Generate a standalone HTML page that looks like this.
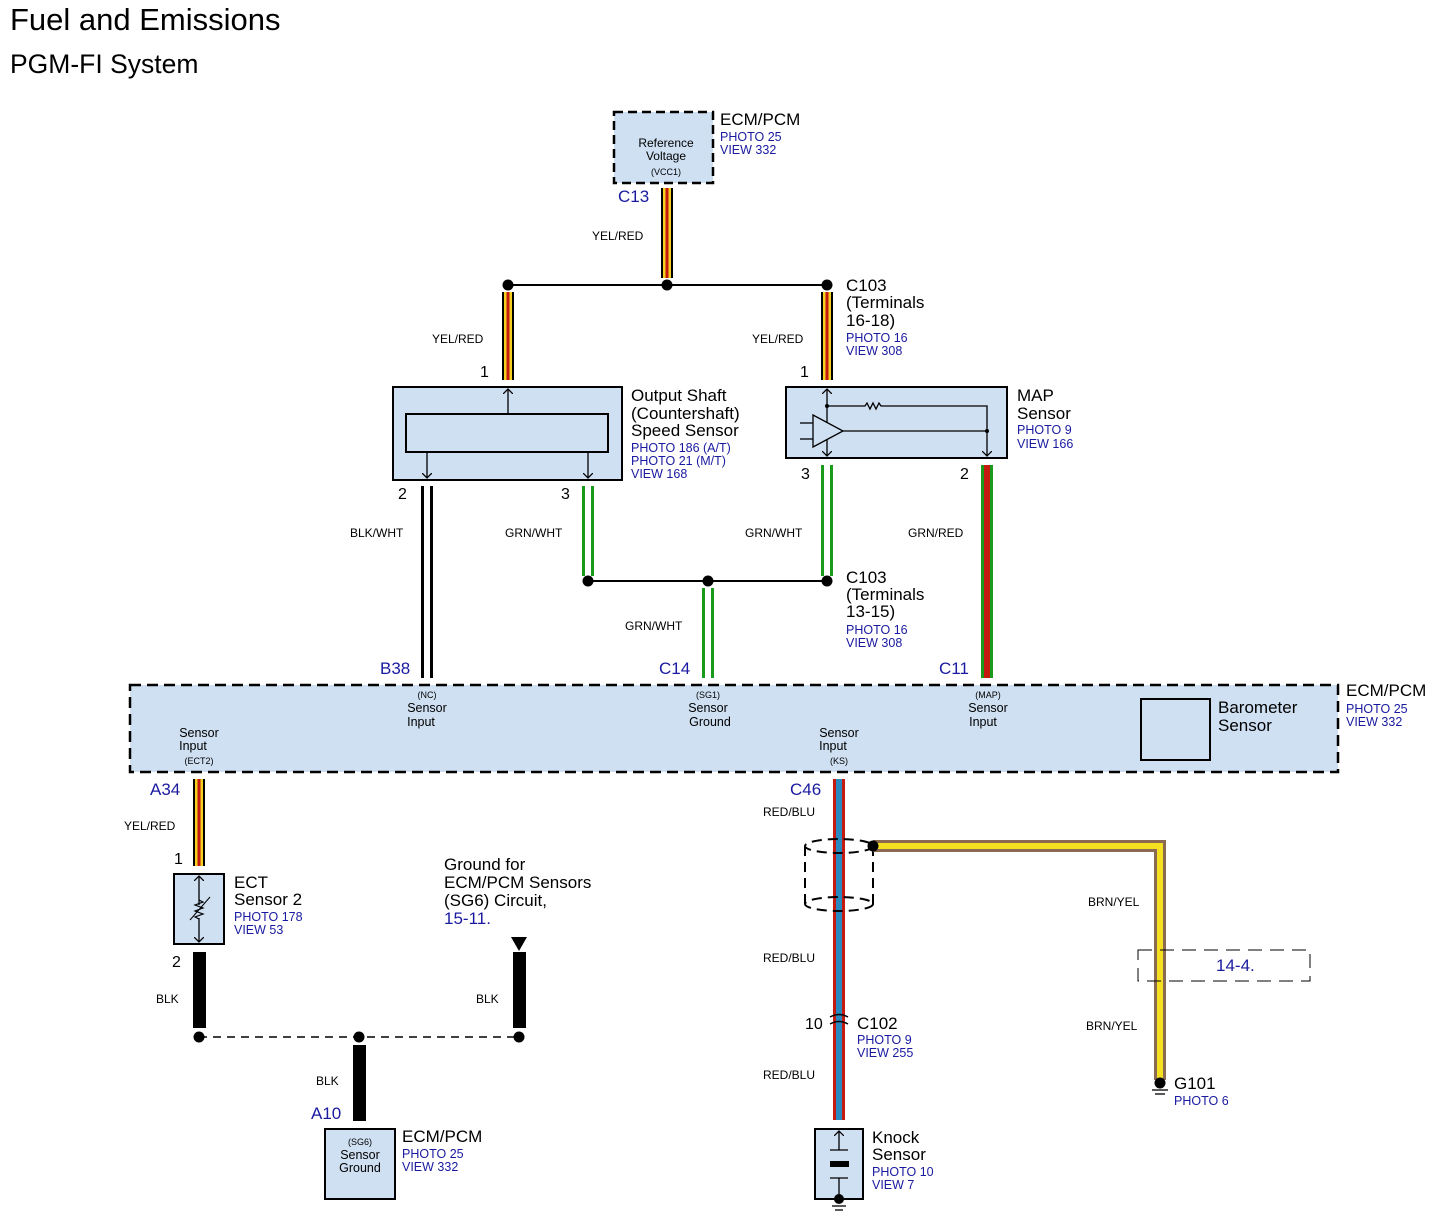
<!DOCTYPE html>
<html><head><meta charset="utf-8"><style>
html,body{margin:0;padding:0;background:#fff;}
svg{display:block;font-family:"Liberation Sans",Arial,sans-serif;}
.b{fill:#1a1aa0;}
text[font-size="16"]{font-size:17px;}
text.b[font-size="12"]{font-size:12.5px;}
text.n{font-size:16px !important;}
</style></head><body>
<svg width="1438" height="1222" viewBox="0 0 1438 1222" xmlns="http://www.w3.org/2000/svg">
<defs>
<marker id="ar" markerWidth="10" markerHeight="10" refX="5" refY="5" orient="auto" markerUnits="userSpaceOnUse"><path d="M0,0 L5,5 L0,10" fill="none" stroke="#000" stroke-width="1.3"/></marker>
</defs>
<text x="10" y="30" font-size="31">Fuel and Emissions</text>
<text x="10" y="73" font-size="26.5">PGM-FI System</text>

<rect x="614" y="112" width="99" height="71" fill="#cfe0f2" stroke="#000" stroke-width="2.5" stroke-dasharray="9,5"/>
<text x="666" y="147" font-size="12" text-anchor="middle">Reference</text>
<text x="666" y="160" font-size="12" text-anchor="middle">Voltage</text>
<text x="666" y="175" font-size="9" text-anchor="middle">(VCC1)</text>
<text x="720" y="125" font-size="16">ECM/PCM</text>
<text x="720" y="141" font-size="12" class="b">PHOTO 25</text>
<text x="720" y="154" font-size="12" class="b">VIEW 332</text>
<text x="618" y="202" font-size="16" class="b">C13</text>

<g>
<rect x="661" y="188" width="12" height="90" fill="#000"/><rect x="663" y="188" width="8" height="90" fill="#f5d020"/><rect x="665.5" y="188" width="3" height="90" fill="#c41a10"/>
<rect x="502" y="292" width="12" height="88" fill="#000"/><rect x="504" y="292" width="8" height="88" fill="#f5d020"/><rect x="506.5" y="292" width="3" height="88" fill="#c41a10"/>
<rect x="821" y="292" width="12" height="88" fill="#000"/><rect x="823" y="292" width="8" height="88" fill="#f5d020"/><rect x="825.5" y="292" width="3" height="88" fill="#c41a10"/>
<rect x="193" y="779" width="12" height="87" fill="#000"/><rect x="195" y="779" width="8" height="87" fill="#f5d020"/><rect x="197.5" y="779" width="3" height="87" fill="#c41a10"/>
</g>
<text x="592" y="240" font-size="12">YEL/RED</text>
<line x1="508" y1="285" x2="827" y2="285" stroke="#000" stroke-width="2"/>
<circle cx="508" cy="285" r="5.5"/><circle cx="667" cy="285" r="5.5"/><circle cx="827" cy="285" r="5.5"/>
<text x="432" y="343" font-size="12">YEL/RED</text>
<text x="752" y="343" font-size="12">YEL/RED</text>
<text x="480" y="377" font-size="16" class="n">1</text>
<text x="800" y="377" font-size="16" class="n">1</text>
<text x="846" y="291" font-size="16">C103</text>
<text x="846" y="308" font-size="16">(Terminals</text>
<text x="846" y="326" font-size="16">16-18)</text>
<text x="846" y="342" font-size="12" class="b">PHOTO 16</text>
<text x="846" y="355" font-size="12" class="b">VIEW 308</text>

<rect x="393" y="387" width="229" height="93" fill="#cfe0f2" stroke="#000" stroke-width="2"/>
<rect x="406" y="414" width="202" height="38" fill="#cfe0f2" stroke="#000" stroke-width="2"/>
<line x1="508" y1="414" x2="508" y2="389" stroke="#000" stroke-width="1.3" marker-end="url(#ar)"/>
<line x1="427" y1="452" x2="427" y2="478" stroke="#000" stroke-width="1.3" marker-end="url(#ar)"/>
<line x1="588" y1="452" x2="588" y2="478" stroke="#000" stroke-width="1.3" marker-end="url(#ar)"/>
<text x="631" y="401" font-size="16">Output Shaft</text>
<text x="631" y="419" font-size="16">(Countershaft)</text>
<text x="631" y="436" font-size="16">Speed Sensor</text>
<text x="631" y="452" font-size="12" class="b">PHOTO 186 (A/T)</text>
<text x="631" y="465" font-size="12" class="b">PHOTO 21 (M/T)</text>
<text x="631" y="478" font-size="12" class="b">VIEW 168</text>

<rect x="786" y="387" width="221" height="71" fill="#cfe0f2" stroke="#000" stroke-width="2"/>
<line x1="827" y1="405" x2="827" y2="389" stroke="#000" stroke-width="1.3" marker-end="url(#ar)"/>
<line x1="827" y1="405" x2="827" y2="456" stroke="#000" stroke-width="1.3" marker-end="url(#ar)"/>
<path d="M827,406 H865 l2,-3 3,6 3,-6 3,6 3,-6 2,3 H987 V456" fill="none" stroke="#000" stroke-width="1.3" marker-end="url(#ar)"/>
<polygon points="813,415 813,447 843,431" fill="#cfe0f2" stroke="#000" stroke-width="1.3"/>
<line x1="800" y1="423" x2="813" y2="423" stroke="#000" stroke-width="1.3"/>
<line x1="800" y1="439" x2="813" y2="439" stroke="#000" stroke-width="1.3"/>
<line x1="843" y1="431" x2="987" y2="431" stroke="#000" stroke-width="1.3"/>
<circle cx="827" cy="406" r="2"/><circle cx="987" cy="431" r="2"/>
<text x="1017" y="401" font-size="16">MAP</text>
<text x="1017" y="419" font-size="16">Sensor</text>
<text x="1017" y="434" font-size="12" class="b">PHOTO 9</text>
<text x="1017" y="448" font-size="12" class="b">VIEW 166</text>

<text x="398" y="499" font-size="16" class="n">2</text>
<text x="561" y="499" font-size="16" class="n">3</text>
<text x="801" y="479" font-size="16" class="n">3</text>
<text x="960" y="479" font-size="16" class="n">2</text>

<rect x="421" y="486" width="12" height="192" fill="#000"/><rect x="424" y="486" width="6" height="192" fill="#fff"/>
<rect x="582" y="486" width="12" height="90" fill="#1a9a1a"/><rect x="585" y="486" width="6" height="90" fill="#fff"/>
<rect x="821" y="465" width="12" height="111" fill="#1a9a1a"/><rect x="824" y="465" width="6" height="111" fill="#fff"/>
<rect x="702" y="588" width="12" height="90" fill="#1a9a1a"/><rect x="705" y="588" width="6" height="90" fill="#fff"/>
<rect x="981" y="465" width="12" height="213" fill="#1a9a1a"/><rect x="984" y="465" width="6" height="213" fill="#c41a10"/>
<text x="350" y="537" font-size="12">BLK/WHT</text>
<text x="505" y="537" font-size="12">GRN/WHT</text>
<text x="745" y="537" font-size="12">GRN/WHT</text>
<text x="908" y="537" font-size="12">GRN/RED</text>
<line x1="588" y1="581" x2="827" y2="581" stroke="#000" stroke-width="2"/>
<circle cx="588" cy="581" r="5.5"/><circle cx="708" cy="581" r="5.5"/><circle cx="827" cy="581" r="5.5"/>
<text x="625" y="630" font-size="12">GRN/WHT</text>
<text x="846" y="583" font-size="16">C103</text>
<text x="846" y="600" font-size="16">(Terminals</text>
<text x="846" y="617" font-size="16">13-15)</text>
<text x="846" y="634" font-size="12" class="b">PHOTO 16</text>
<text x="846" y="647" font-size="12" class="b">VIEW 308</text>
<text x="380" y="674" font-size="16" class="b">B38</text>
<text x="659" y="674" font-size="16" class="b">C14</text>
<text x="939" y="674" font-size="16" class="b">C11</text>

<rect x="130" y="685" width="1208" height="87" fill="#cfe0f2" stroke="#000" stroke-width="2.5" stroke-dasharray="11,6"/>
<g font-size="12.5" text-anchor="middle">
<text x="427" y="698" font-size="9">(NC)</text><text x="427" y="712">Sensor</text><text x="421" y="726">Input</text>
<text x="708" y="698" font-size="9">(SG1)</text><text x="708" y="712">Sensor</text><text x="710" y="726">Ground</text>
<text x="988" y="698" font-size="9">(MAP)</text><text x="988" y="712">Sensor</text><text x="983" y="726">Input</text>
<text x="199" y="737">Sensor</text><text x="193" y="750">Input</text><text x="199" y="764" font-size="9">(ECT2)</text>
<text x="839" y="737">Sensor</text><text x="833" y="750">Input</text><text x="839" y="764" font-size="9">(KS)</text>
</g>
<rect x="1141" y="699" width="69" height="61" fill="#cfe0f2" stroke="#000" stroke-width="2"/>
<text x="1218" y="713" font-size="16">Barometer</text>
<text x="1218" y="731" font-size="16">Sensor</text>
<text x="1346" y="696" font-size="16">ECM/PCM</text>
<text x="1346" y="713" font-size="12" class="b">PHOTO 25</text>
<text x="1346" y="726" font-size="12" class="b">VIEW 332</text>

<text x="150" y="795" font-size="16" class="b">A34</text>
<text x="124" y="830" font-size="12">YEL/RED</text>
<text x="174" y="864" font-size="16" class="n">1</text>
<rect x="174" y="874" width="50" height="70" fill="#cfe0f2" stroke="#000" stroke-width="2"/>
<line x1="199" y1="905" x2="199" y2="876" stroke="#000" stroke-width="1.3" marker-end="url(#ar)"/>
<line x1="199" y1="918" x2="199" y2="942" stroke="#000" stroke-width="1.3" marker-end="url(#ar)"/>
<path d="M199,900 l4,2 -8,3 8,3 -8,3 8,3 -8,3 4,2" fill="none" stroke="#000" stroke-width="1.2"/>
<line x1="190" y1="920" x2="210" y2="897" stroke="#000" stroke-width="1"/>
<text x="234" y="888" font-size="16">ECT</text>
<text x="234" y="905" font-size="16">Sensor 2</text>
<text x="234" y="921" font-size="12" class="b">PHOTO 178</text>
<text x="234" y="934" font-size="12" class="b">VIEW 53</text>
<text x="172" y="967" font-size="16" class="n">2</text>
<rect x="193" y="952" width="13" height="76" fill="#000"/>
<text x="156" y="1003" font-size="12">BLK</text>
<text x="444" y="870" font-size="16">Ground for</text>
<text x="444" y="888" font-size="16">ECM/PCM Sensors</text>
<text x="444" y="906" font-size="16">(SG6) Circuit,</text>
<text x="444" y="924" font-size="16" class="b">15-11.</text>
<polygon points="511,937 527,937 519,951"/>
<rect x="513" y="952" width="13" height="76" fill="#000"/>
<text x="476" y="1003" font-size="12">BLK</text>
<line x1="199" y1="1037" x2="519" y2="1037" stroke="#000" stroke-width="1.5" stroke-dasharray="8,6"/>
<circle cx="199" cy="1037" r="5.5"/><circle cx="359" cy="1037" r="5.5"/><circle cx="519" cy="1037" r="5.5"/>
<rect x="353" y="1045" width="13" height="76" fill="#000"/>
<text x="316" y="1085" font-size="12">BLK</text>
<text x="311" y="1119" font-size="16" class="b">A10</text>
<rect x="325" y="1129" width="70" height="70" fill="#cfe0f2" stroke="#000" stroke-width="2"/>
<text x="360" y="1145" font-size="9" text-anchor="middle">(SG6)</text>
<text x="360" y="1159" font-size="12.5" text-anchor="middle">Sensor</text>
<text x="360" y="1172" font-size="12.5" text-anchor="middle">Ground</text>
<text x="402" y="1142" font-size="16">ECM/PCM</text>
<text x="402" y="1158" font-size="12" class="b">PHOTO 25</text>
<text x="402" y="1171" font-size="12" class="b">VIEW 332</text>

<text x="790" y="795" font-size="16" class="b">C46</text>
<rect x="833" y="779" width="12" height="341" fill="#c41a10"/><rect x="836" y="779" width="6" height="341" fill="#2a8ac0"/>
<path d="M830,1017 q9,-5 18,0 M830,1024 q9,-5 18,0" fill="none" stroke="#000" stroke-width="1.5"/>
<text x="763" y="816" font-size="12">RED/BLU</text>
<text x="763" y="962" font-size="12">RED/BLU</text>
<text x="763" y="1079" font-size="12">RED/BLU</text>
<g fill="none" stroke="#000" stroke-width="2" stroke-dasharray="10,6">
<ellipse cx="839" cy="846" rx="34" ry="7"/>
<ellipse cx="839" cy="904" rx="34" ry="7"/>
<line x1="805" y1="846" x2="805" y2="904"/><line x1="873" y1="846" x2="873" y2="904"/>
</g>
<path d="M873,846 H1160 V1080" fill="none" stroke="#8a6a50" stroke-width="12"/>
<path d="M873,846 H1160 V1080" fill="none" stroke="#f5e020" stroke-width="6"/>
<circle cx="873" cy="846" r="5.5"/>
<text x="1088" y="906" font-size="12">BRN/YEL</text>
<text x="1086" y="1030" font-size="12">BRN/YEL</text>
<rect x="1138" y="950" width="172" height="31" fill="none" stroke="#000" stroke-width="1" stroke-dasharray="14,8"/>
<text x="1216" y="971" font-size="16" class="b">14-4.</text>
<circle cx="1160" cy="1083" r="5.5"/>
<line x1="1152" y1="1090" x2="1168" y2="1090" stroke="#000" stroke-width="1.3"/>
<line x1="1155" y1="1094" x2="1165" y2="1094" stroke="#000" stroke-width="1.3"/>
<text x="1174" y="1089" font-size="16">G101</text>
<text x="1174" y="1105" font-size="12" class="b">PHOTO 6</text>
<text x="805" y="1029" font-size="16" class="n">10</text>
<text x="857" y="1029" font-size="16">C102</text>
<text x="857" y="1044" font-size="12" class="b">PHOTO 9</text>
<text x="857" y="1057" font-size="12" class="b">VIEW 255</text>
<rect x="815" y="1129" width="48" height="70" fill="#cfe0f2" stroke="#000" stroke-width="2"/>
<line x1="839" y1="1150" x2="839" y2="1131" stroke="#000" stroke-width="1.3" marker-end="url(#ar)"/>
<line x1="830" y1="1150" x2="848" y2="1150" stroke="#000" stroke-width="1.3"/>
<rect x="830" y="1161" width="19" height="6"/>
<line x1="830" y1="1178" x2="848" y2="1178" stroke="#000" stroke-width="1.3"/>
<line x1="839" y1="1178" x2="839" y2="1199" stroke="#000" stroke-width="1.3"/>
<circle cx="839" cy="1199" r="5"/>
<line x1="832" y1="1206" x2="846" y2="1206" stroke="#000" stroke-width="1.3"/>
<line x1="835" y1="1210" x2="843" y2="1210" stroke="#000" stroke-width="1.3"/>
<text x="872" y="1143" font-size="16">Knock</text>
<text x="872" y="1160" font-size="16">Sensor</text>
<text x="872" y="1176" font-size="12" class="b">PHOTO 10</text>
<text x="872" y="1189" font-size="12" class="b">VIEW 7</text>
</svg>
</body></html>
